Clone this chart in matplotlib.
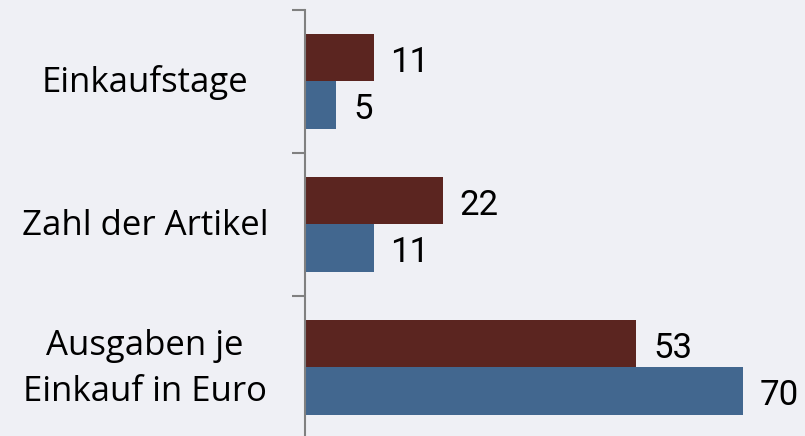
import matplotlib.pyplot as plt
from matplotlib.transforms import blended_transform_factory

# data
categories = ["Einkaufstage", "Zahl der Artikel", "Ausgaben je\nEinkauf in Euro"]
series_red = [11, 22, 53]
series_blue = [5, 11, 70]

RED = "#5B2520"
BLUE = "#42678F"
BG = "#EFF0F5"
GRAY = "#808080"

plt.rcParams["font.family"] = ["Roboto", "DejaVu Sans"]

fig = plt.figure(figsize=(8.05, 4.36), dpi=100, facecolor=BG)
ax = fig.add_axes([305 / 805, 0, 500 / 805, 1 - 10 / 436], facecolor=BG)

h = 0.33
pos = list(range(len(categories)))
ax.barh([p - h / 2 for p in pos], series_red, height=h, color=RED)
ax.barh([p + h / 2 for p in pos], series_blue, height=h, color=BLUE)

for p, v in zip(pos, series_red):
    ax.annotate(str(v), (v, p - h / 2), xytext=(12, -3), textcoords="offset points",
                va="center", ha="left", fontsize=25)
for p, v in zip(pos, series_blue):
    ax.annotate(str(v), (v, p + h / 2), xytext=(12, -3), textcoords="offset points",
                va="center", ha="left", fontsize=25)

ax.set_xlim(0, 80)
ax.set_ylim((436 - 81.5) / 143, -0.5)

# category labels
tr = blended_transform_factory(ax.transAxes, ax.transData)
for p, c in zip(pos, categories):
    ax.text(-0.32, p + 0.01, c, transform=tr, ha="center", va="center",
            fontsize=25, linespacing=1.45, family=["Open Sans", "DejaVu Sans"])

for s in ["top", "right", "bottom"]:
    ax.spines[s].set_visible(False)
ax.spines["left"].set_color(GRAY)
ax.spines["left"].set_linewidth(1.5)

# separator ticks between the groups
ax.set_xticks([])
ax.set_yticks([-0.5, 0.5, 1.5])
ax.set_yticklabels([])
ax.tick_params(axis="y", length=9.4, width=1.5, color=GRAY)

fig.savefig("out.png", dpi=100, facecolor=BG)
